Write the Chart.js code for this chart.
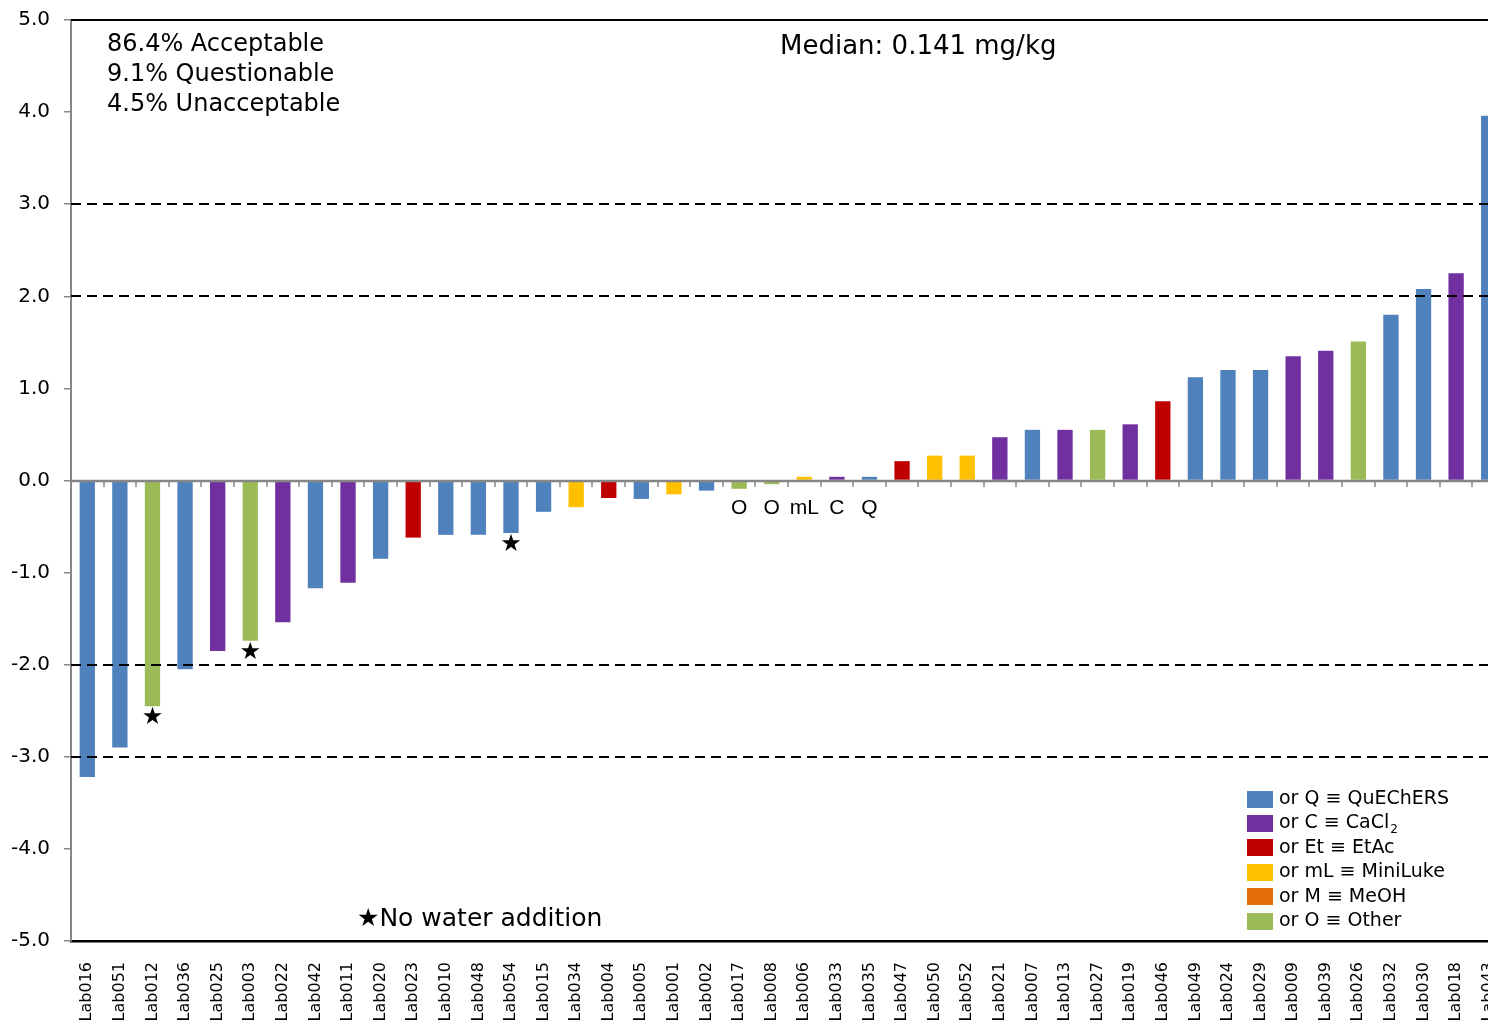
<!DOCTYPE html>
<html>
<head>
<meta charset="utf-8">
<script src="https://cdn.jsdelivr.net/npm/chart.js@4.4.0/dist/chart.umd.min.js"></script>
<style>
  html, body { margin: 0; padding: 0; background: #fff; overflow: hidden; }
  #wrap { position: relative; width: 1505px; height: 1024px; }
</style>
</head>
<body>
<div id="wrap"><canvas id="c"></canvas></div>
<script>
// Participating laboratories, ordered by z-score
const labs = ['Lab016','Lab051','Lab012','Lab036','Lab025','Lab003','Lab022','Lab042','Lab011','Lab020',
  'Lab023','Lab010','Lab048','Lab054','Lab015','Lab034','Lab004','Lab005','Lab001','Lab002',
  'Lab017','Lab008','Lab006','Lab033','Lab035','Lab047','Lab050','Lab052','Lab021','Lab007',
  'Lab013','Lab027','Lab019','Lab046','Lab049','Lab024','Lab029','Lab009','Lab039','Lab026',
  'Lab032','Lab030','Lab018','Lab043'];

// z-scores per laboratory
const zScores = [-3.22,-2.90,-2.45,-2.05,-1.85,-1.74,-1.54,-1.17,-1.11,-0.85,
  -0.62,-0.59,-0.59,-0.57,-0.34,-0.29,-0.19,-0.20,-0.15,-0.11,
  -0.09,-0.04,0.04,0.04,0.04,0.21,0.27,0.27,0.47,0.55,
  0.55,0.55,0.61,0.86,1.12,1.20,1.20,1.35,1.41,1.51,
  1.80,2.08,2.25,3.96];

// Extraction method code per laboratory
const methods = ['Q','Q','O','Q','C','O','C','Q','C','Q',
  'Et','Q','Q','Q','Q','mL','Et','Q','mL','Q',
  'O','O','mL','C','Q','Et','mL','mL','C','Q',
  'C','O','C','Et','Q','Q','Q','C','C','O',
  'Q','Q','C','Q'];

// Labs that did not add water
const noWaterLabs = ['Lab012','Lab003','Lab054'];
// Labs whose tiny bars get their method code written underneath
const taggedLabs = ['Lab017','Lab008','Lab006','Lab033','Lab035'];

const methodCodes = ['Q','C','Et','mL','M','O'];
const methodNames = ['QuEChERS','CaCl','EtAc','MiniLuke','MeOH','Other'];
const methodColors = ['#4F81BD','#7030A0','#C00000','#FFC000','#E46C0A','#9BBB59'];

const limitLines = [3, 2, -2, -3];
const yMin = -5, yMax = 5, yStep = 1;

const summaryLines = ['86.4% Acceptable','9.1% Questionable','4.5% Unacceptable'];
const medianText = 'Median: 0.141 mg/kg';
const noWaterText = 'No water addition';

const FONT = '"DejaVu Sans", sans-serif';
const colorOf = code => methodColors[methodCodes.indexOf(code)];

const overlay = {
  id: 'overlay',
  afterDatasetsDraw(chart) {
    const { ctx, chartArea: a, scales: { x, y } } = chart;
    ctx.save();
    // top frame line
    ctx.strokeStyle = '#000';
    ctx.lineWidth = 2;
    ctx.beginPath(); ctx.moveTo(a.left, a.top); ctx.lineTo(a.right, a.top); ctx.stroke();
    // dashed limit lines
    ctx.setLineDash([10, 6]);
    limitLines.forEach(v => {
      const py = Math.round(y.getPixelForValue(v));
      ctx.beginPath(); ctx.moveTo(a.left, py); ctx.lineTo(a.right, py); ctx.stroke();
    });
    ctx.setLineDash([]);
    // zero line with category tick marks
    const y0 = Math.round(y.getPixelForValue(0));
    ctx.strokeStyle = '#868686';
    ctx.lineWidth = 2.5;
    ctx.beginPath(); ctx.moveTo(a.left, y0); ctx.lineTo(a.right, y0); ctx.stroke();
    ctx.lineWidth = 1.5;
    for (let i = 1; i < labs.length; i++) {
      const px = Math.round((x.getPixelForValue(i - 1) + x.getPixelForValue(i)) / 2);
      ctx.beginPath(); ctx.moveTo(px, y0); ctx.lineTo(px, y0 + 6); ctx.stroke();
    }
    // stars for labs without water addition
    ctx.fillStyle = '#000';
    ctx.textAlign = 'center';
    ctx.textBaseline = 'middle';
    ctx.font = '24px ' + FONT;
    noWaterLabs.forEach(lab => {
      const i = labs.indexOf(lab);
      ctx.fillText('★', x.getPixelForValue(i), y.getPixelForValue(zScores[i]) + 12);
    });
    // method codes under the smallest bars
    ctx.font = '21px "Liberation Sans", sans-serif';
    taggedLabs.forEach(lab => {
      const i = labs.indexOf(lab);
      ctx.fillText(methods[i], x.getPixelForValue(i), y0 + 27);
    });
    ctx.restore();
  },
  afterDraw(chart) {
    const { ctx } = chart;
    ctx.save();
    ctx.fillStyle = '#000';
    ctx.textAlign = 'left';
    ctx.textBaseline = 'middle';
    // acceptance summary
    ctx.font = '24px ' + FONT;
    summaryLines.forEach((t, k) => ctx.fillText(t, 107, 45 + k * 30));
    // median
    ctx.font = '26px ' + FONT;
    ctx.fillText(medianText, 780, 47);
    // star footnote
    ctx.font = '25px ' + FONT;
    ctx.fillText('★' + noWaterText, 357, 919);
    // method legend
    methodCodes.forEach((code, k) => {
      const cy = 799 + k * 24.4;
      ctx.fillStyle = methodColors[k];
      ctx.fillRect(1247, Math.round(cy - 8.5), 26, 17);
      ctx.fillStyle = '#000';
      ctx.font = '19px ' + FONT;
      const txt = 'or ' + code + ' ≡ ' + methodNames[k];
      ctx.fillText(txt, 1279, cy);
      if (methodNames[k] === 'CaCl') {
        const w = ctx.measureText(txt).width;
        ctx.font = '12px ' + FONT;
        ctx.fillText('2', 1279 + w + 1, cy + 6);
      }
    });
    ctx.restore();
  }
};

new Chart(document.getElementById('c'), {
  type: 'bar',
  data: {
    labels: labs,
    datasets: [{
      data: zScores,
      backgroundColor: methods.map(colorOf),
      borderWidth: 0,
      barPercentage: 0.47,
      categoryPercentage: 1.0
    }]
  },
  options: {
    responsive: true,
    maintainAspectRatio: false,
    animation: false,
    devicePixelRatio: 1,
    layout: { padding: { top: 20, left: 0, right: 0, bottom: 0 } },
    plugins: { legend: { display: false }, tooltip: { enabled: false } },
    scales: {
      x: {
        offset: true,
        grid: { display: false, drawTicks: true, tickLength: 18 },
        border: { display: true, color: '#000', width: 2.5 },
        ticks: {
          autoSkip: false, maxRotation: 90, minRotation: 90, padding: 3,
          color: '#000', font: { family: FONT, size: 16 }
        },
        afterFit(s) { s.height = 83; s.paddingLeft = 0; s.paddingRight = 0; }
      },
      y: {
        min: yMin, max: yMax,
        grid: { drawOnChartArea: false, drawTicks: true, tickLength: 7, color: '#868686', lineWidth: 1.5 },
        border: { display: true, color: '#868686', width: 2 },
        ticks: {
          stepSize: yStep, padding: 14, color: '#000',
          font: { family: FONT, size: 20 },
          callback: v => Number(v).toFixed(1)
        },
        afterFit(s) { s.width = 71; s.paddingTop = 0; s.paddingBottom = 0; }
      }
    }
  },
  plugins: [overlay]
});
</script>
</body>
</html>
